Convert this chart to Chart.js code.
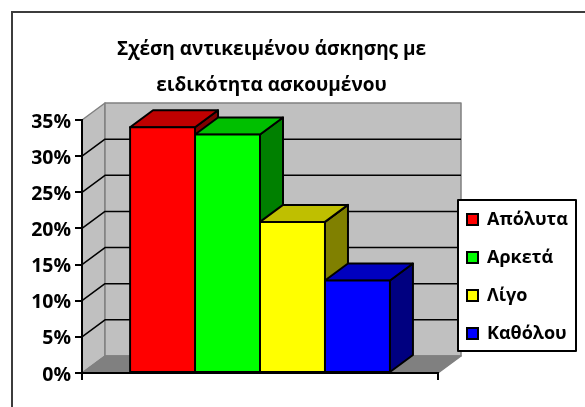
<!DOCTYPE html>
<html>
<head>
<meta charset="utf-8">
<style>
  html, body { margin: 0; padding: 0; background: #fff; }
  canvas { display: block; }
</style>
</head>
<body>
<canvas id="barChart" width="585" height="407"></canvas>
<script src="https://cdn.jsdelivr.net/npm/chart.js@4"></script>
<script>
const seriesNames = ['Απόλυτα', 'Αρκετά', 'Λίγο', 'Καθόλου'];
const seriesValues = [34, 33, 20.9, 12.8];
const frontColors = ['#ff0000', '#00ff00', '#ffff00', '#0000ff'];
const topColors = ['#bf0000', '#00bf00', '#bfbf00', '#0000bf'];
const sideColors = ['#800000', '#008000', '#808000', '#000080'];
const yTicks = [0, 5, 10, 15, 20, 25, 30, 35];
const titleLines = ['Σχέση αντικειμένου άσκησης με', 'ειδικότητα ασκουμένου'];
const fontName = '"Open Sans", "Noto Sans", sans-serif';

const DEPTH_X = 23;
const DEPTH_Y = 17;

function poly(c, pts, fill, stroke, width) {
    c.beginPath();
    pts.forEach((p, i) => i ? c.lineTo(p[0], p[1]) : c.moveTo(p[0], p[1]));
    c.closePath();
    c.fillStyle = fill;
    c.fill();
    if (stroke) {
        c.strokeStyle = stroke;
        c.lineWidth = width;
        c.stroke();
    }
}

// the 3d look: walls, floor, gridlines, bar tops and sides
const box3d = {
    id: 'box3d',
    afterLayout(chart) {
        // title and legend sit off-centre in the original
        const t = chart.titleBlock;
        t.left = 0; t.right = 543; t.top = 32;
        const l = chart.legend;
        l.left = 447; l.top = 190.5; l.right = 585; l.bottom = 407;
    },
    beforeDraw(chart) {
        const c = chart.ctx;
        const { x, y } = chart.scales;
        const y0 = y.getPixelForValue(0);
        const yMax = y.getPixelForValue(yTicks[yTicks.length - 1]);
        const gray = '#808080';
        c.save();
        // outer frame runs off the right and bottom of the picture
        c.strokeStyle = '#3c3c3c';
        c.lineWidth = 2;
        c.beginPath();
        c.moveTo(12, 407);
        c.lineTo(12, 12);
        c.lineTo(585, 12);
        c.stroke();
        c.lineJoin = 'round';
        // side wall, back wall, floor
        poly(c, [[x.left, yMax], [x.left + DEPTH_X, yMax - DEPTH_Y], [x.left + DEPTH_X, y0 - DEPTH_Y], [x.left, y0]], '#c0c0c0', gray, 1.5);
        poly(c, [[x.left + DEPTH_X, yMax - DEPTH_Y], [x.right + DEPTH_X, yMax - DEPTH_Y], [x.right + DEPTH_X, y0 - DEPTH_Y], [x.left + DEPTH_X, y0 - DEPTH_Y]], '#c0c0c0', gray, 1.5);
        poly(c, [[x.left, y0], [x.left + DEPTH_X, y0 - DEPTH_Y], [x.right + DEPTH_X, y0 - DEPTH_Y], [x.right, y0]], gray, gray, 1.5);
        // gridlines fold at the wall corner
        c.strokeStyle = '#000';
        c.lineWidth = 1.5;
        yTicks.slice(1, -1).forEach(v => {
            const py = y.getPixelForValue(v);
            c.beginPath();
            c.moveTo(x.left, py);
            c.lineTo(x.left + DEPTH_X, py - DEPTH_Y);
            c.lineTo(x.right + DEPTH_X, py - DEPTH_Y);
            c.stroke();
        });
        // legend box goes under the legend's own labels
        c.fillStyle = '#fff';
        c.fillRect(458, 200, 118, 151);
        c.strokeStyle = '#000';
        c.lineWidth = 2;
        c.strokeRect(458, 200, 118, 151);
        c.restore();
    },
    beforeDatasetsDraw(chart) {
        const c = chart.ctx;
        c.save();
        c.lineJoin = 'round';
        seriesValues.forEach((v, i) => {
            const bar = chart.getDatasetMeta(i).data[0];
            const l = bar.x - bar.width / 2;
            const r = bar.x + bar.width / 2;
            poly(c, [[r, bar.y], [r + DEPTH_X, bar.y - DEPTH_Y], [r + DEPTH_X, bar.base - DEPTH_Y], [r, bar.base]], sideColors[i], '#000', 2);
            poly(c, [[l, bar.y], [l + DEPTH_X, bar.y - DEPTH_Y], [r + DEPTH_X, bar.y - DEPTH_Y], [r, bar.y]], topColors[i], '#000', 2);
        });
        c.restore();
    },
};

new Chart(document.getElementById('barChart'), {
    type: 'bar',
    data: {
        labels: [''],
        datasets: seriesNames.map((name, i) => ({
            label: name,
            data: [seriesValues[i]],
            backgroundColor: frontColors[i],
            borderColor: '#000',
            borderWidth: 2,
            borderSkipped: false,
            inflateAmount: 1,
            categoryPercentage: 0.73,
            barPercentage: 1,
        })),
    },
    options: {
        responsive: false,
        animation: false,
        layout: { padding: { top: 48, right: 28 } },
        scales: {
            x: {
                afterFit: (s) => { s.height = 34; },
                border: { color: '#000', width: 2 },
                grid: { offset: true, drawOnChartArea: false, color: '#000', lineWidth: 2, tickLength: 7 },
                ticks: { display: false },
            },
            y: {
                min: 0,
                max: 35,
                afterFit: (s) => { s.width = 82; },
                border: { color: '#000', width: 2 },
                grid: { drawOnChartArea: false, color: '#000', lineWidth: 2, tickLength: 7 },
                ticks: {
                    stepSize: 5,
                    color: '#000',
                    padding: 4,
                    labelOffset: 2,
                    font: { family: fontName, size: 19.5, weight: 'bold' },
                    callback: (v) => v + '%',
                },
            },
        },
        plugins: {
            title: {
                display: true,
                text: titleLines,
                color: '#000',
                padding: 0,
                font: { family: fontName, size: 19, weight: 'bold', lineHeight: '36px' },
            },
            legend: {
                position: 'right',
                align: 'start',
                maxWidth: 119,
                labels: {
                    color: '#000',
                    boxWidth: 11,
                    boxHeight: 11,
                    padding: 20,
                    font: { family: fontName, size: 18, weight: 'bold' },
                },
            },
            tooltip: { enabled: false },
        },
    },
    plugins: [box3d],
});
</script>
</body>
</html>
